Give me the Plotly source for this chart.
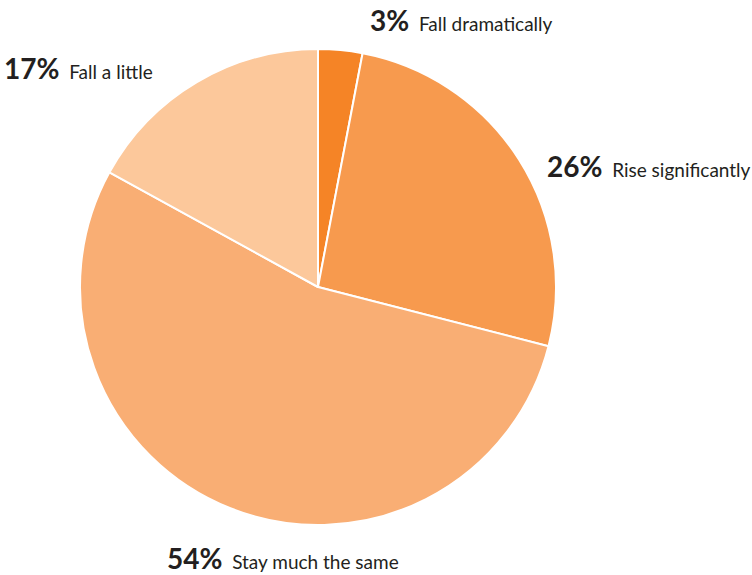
import plotly.graph_objects as go

categories = ["Fall dramatically", "Rise significantly", "Stay much the same", "Fall a little"]
values = [3, 26, 54, 17]
colors = ["#F58426", "#F79A4E", "#F9AE74", "#FCC89B"]

W, H = 752, 575
cx, cy, r = 318, 287, 238

fig = go.Figure(go.Pie(
    labels=categories, values=values, sort=False, direction="clockwise", rotation=0,
    marker=dict(colors=colors, line=dict(color="white", width=2)),
    textinfo="none", hoverinfo="label+percent", showlegend=False,
    domain=dict(x=[(cx - r) / W, (cx + r) / W], y=[1 - (cy + r) / H, 1 - (cy - r) / H]),
))

# label anchor positions (pixels, left edge and vertical centre)
label_pos = [(368, 20), (545, 166), (165, 558), (2, 68)]
for cat, val, (lx, ly) in zip(categories, values, label_pos):
    fig.add_annotation(
        x=lx / W, y=1 - ly / H, xref="paper", yref="paper",
        xanchor="left", yanchor="middle", showarrow=False,
        text=f"<span style='font-size:28px'><b>{val}%</b></span>&#160;&#160;{cat}",
        font=dict(family="Lato", size=19, color="#231F20"),
    )

fig.update_layout(width=W, height=H, margin=dict(l=0, r=0, t=0, b=0),
                  paper_bgcolor="white", plot_bgcolor="white")
fig.write_html("out.html", config={"displayModeBar": False},
               post_script="document.body.style.margin='0';")
